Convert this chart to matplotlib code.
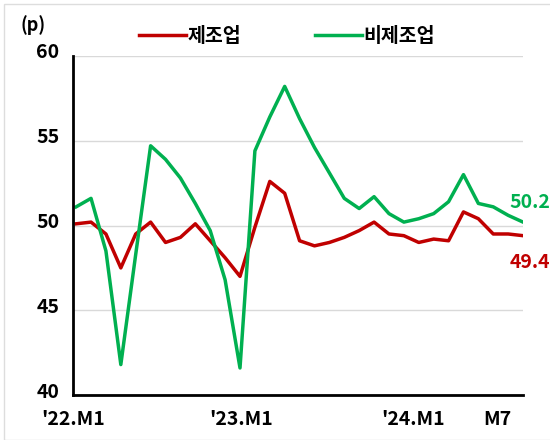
import numpy as np
import matplotlib.pyplot as plt
import matplotlib.transforms as mtransforms
from matplotlib.patches import Rectangle

plt.rcParams['font.family'] = ['Noto Sans CJK KR', 'DejaVu Sans']
plt.rcParams['font.weight'] = 'bold'

months = np.arange(31)
mfg = [50.1, 50.2, 49.5, 47.5, 49.5, 50.2, 49.0, 49.3, 50.1, 49.1, 48.1, 47.0,
       49.9, 52.6, 51.9, 49.1, 48.8, 49.0, 49.3, 49.7, 50.2, 49.5, 49.4, 49.0,
       49.2, 49.1, 50.8, 50.4, 49.5, 49.5, 49.4]
nonmfg = [51.1, 51.6, 48.5, 41.8, 48.3, 54.7, 53.9, 52.8, 51.3, 49.7, 46.8, 41.6,
          54.4, 56.4, 58.2, 56.3, 54.6, 53.1, 51.6, 51.0, 51.7, 50.7, 50.2, 50.4,
          50.7, 51.4, 53.0, 51.3, 51.1, 50.6, 50.2]
yticks = [40, 45, 50, 55, 60]
tick_pos = [-0.2, 11.1, 22.6, 28.3]
tick_labels = ["'22.M1", "'23.M1", "'24.M1", "M7"]
red = '#C00000'
green = '#00B050'

fig = plt.figure(figsize=(5.5, 4.4), dpi=100)
ax = fig.add_axes([0.133, 0.102, 0.818, 0.771])

ax.plot(months, mfg, color=red, lw=2.5, label='제조업')
ax.plot(months, nonmfg, color=green, lw=2.5, label='비제조업')

ax.set_xlim(0, 30)
ax.set_ylim(40, 60)
ax.set_yticks(yticks, [str(v) for v in yticks], fontweight='bold', fontsize=14)
ax.set_xticks(tick_pos, tick_labels, fontweight='bold', fontsize=14)
ax.tick_params(axis='x', length=0, pad=11)
ax.tick_params(axis='y', length=0, pad=10)

# y labels sit a bit above their gridlines in the original
shift = mtransforms.ScaledTranslation(0, 5 / 100, fig.dpi_scale_trans)
for lab in ax.get_yticklabels():
    lab.set_transform(lab.get_transform() + shift)

ax.grid(axis='y', color='#d9d9d9', lw=1)
ax.set_axisbelow(True)
for s in ['top', 'right']:
    ax.spines[s].set_visible(False)
ax.spines['left'].set_linewidth(2)
ax.spines['bottom'].set_linewidth(2)

ax.annotate(f'{nonmfg[-1]:.1f}', (months[-1], nonmfg[-1]), xytext=(-10, 14),
            textcoords='offset points', color=green, fontsize=14, fontweight='bold',
            va='center', ha='left', annotation_clip=False)
ax.annotate(f'{mfg[-1]:.1f}', (months[-1], mfg[-1]), xytext=(-10, -19),
            textcoords='offset points', color=red, fontsize=14, fontweight='bold',
            va='center', ha='left', annotation_clip=False)

fig.text(0.037, 0.943, '(p)', fontsize=13, fontweight='bold', va='center')
fig.legend(loc='center', bbox_to_anchor=(0.522, 0.918), ncol=2, frameon=False,
           handlelength=2.4, handletextpad=0.1, columnspacing=3.8,
           prop={'weight': 'bold', 'size': 14})

fig.patches.append(Rectangle((0.008, 0.0), 1.0, 0.99, transform=fig.transFigure,
                             fill=False, edgecolor='#dddddd', lw=1))

fig.savefig('out.png', dpi=100)
